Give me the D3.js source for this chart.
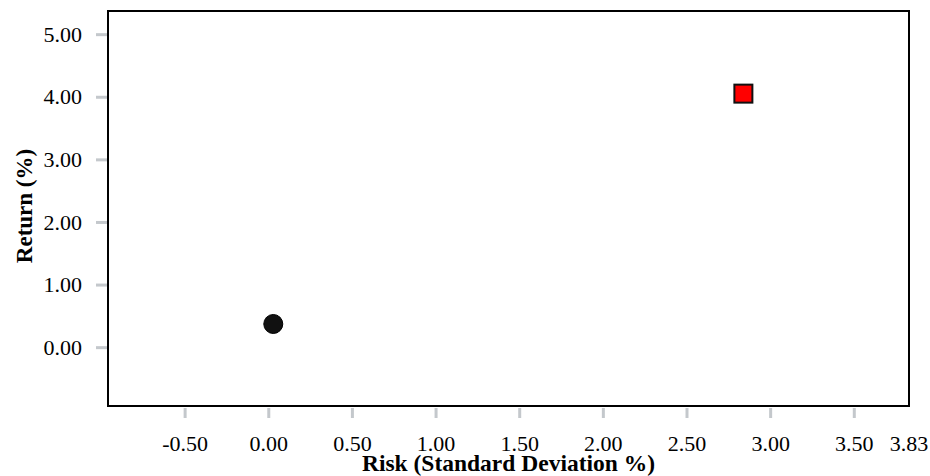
<!DOCTYPE html>
<html>
<head>
<meta charset="utf-8">
<script src="https://cdn.jsdelivr.net/npm/d3@7"></script>
<style>
  body { margin: 0; background: #fff; }
  text { font-family: "Liberation Serif", "Times New Roman", serif; }
</style>
</head>
<body>
<div id="chart"></div>
<script>
// Data
const names = ["Cash", "Portfolio"];
const risk = [0.03, 2.84];
const ret = [0.37, 4.05];
const shapes = ["circle", "square"];
const fills = ["#111111", "#ff0000"];

const xTicks = [-0.5, 0, 0.5, 1, 1.5, 2, 2.5, 3, 3.5];
const yTicks = [0, 1, 2, 3, 4, 5];
const xMax = 3.83;

const W = 930, H = 476;
const margin = { top: 11, right: 21, bottom: 70, left: 108 };
const width = W - margin.left - margin.right,
      height = H - margin.top - margin.bottom;

const fmt = d => d.toFixed(2); // plain hyphen for negatives

const svg = d3.select("#chart").append("svg")
    .attr("width", W).attr("height", H);

const g = svg.append("g")
    .attr("transform", `translate(${margin.left},${margin.top})`);

const x = d3.scaleLinear().domain([-0.958, xMax]).range([0, width]);
const y = d3.scaleLinear().domain([-0.94, 5.37]).range([height, 0]);

// X axis: gray ticks below the box, plus end label at the max
const xAxis = g.append("g")
    .attr("transform", `translate(0,${height})`)
    .call(d3.axisBottom(x).tickValues(xTicks).tickFormat(fmt)
      .tickSize(12).tickPadding(17));
xAxis.select(".domain").remove();
xAxis.selectAll("line").attr("stroke", "#c4c8cc").attr("stroke-width", 3)
    .attr("y1", 2);
xAxis.selectAll("text").attr("fill", "#000").style("font-size", "22px")
    .style("font-family", "Liberation Serif");
xAxis.append("text")
    .attr("x", x(xMax)).attr("y", 29).attr("dy", "0.71em")
    .attr("text-anchor", "middle").attr("fill", "#000")
    .style("font-size", "22px")
    .text(fmt(xMax));

// Y axis
const yAxis = g.append("g")
    .call(d3.axisLeft(y).tickValues(yTicks).tickFormat(fmt)
      .tickSize(12).tickPadding(14));
yAxis.select(".domain").remove();
yAxis.selectAll("line").attr("stroke", "#c4c8cc").attr("stroke-width", 3)
    .attr("x1", -1);
yAxis.selectAll("text").attr("fill", "#000").style("font-size", "22px")
    .style("font-family", "Liberation Serif");

// Frame
g.append("rect")
    .attr("width", width).attr("height", height)
    .attr("fill", "none").attr("stroke", "#000").attr("stroke-width", 2);

// Points
const pts = names.map((n, i) => ({ name: n, x: risk[i], y: ret[i], shape: shapes[i], fill: fills[i] }));

g.selectAll("circle.pt")
  .data(pts.filter(d => d.shape === "circle"))
  .join("circle")
    .attr("class", "pt")
    .attr("cx", d => x(d.x)).attr("cy", d => y(d.y))
    .attr("r", 9.5)
    .attr("fill", d => d.fill)
    .attr("stroke", "#000").attr("stroke-width", 1);

g.selectAll("rect.pt")
  .data(pts.filter(d => d.shape === "square"))
  .join("rect")
    .attr("class", "pt")
    .attr("x", d => x(d.x) - 9).attr("y", d => y(d.y) - 9)
    .attr("width", 18).attr("height", 18)
    .attr("fill", d => d.fill)
    .attr("stroke", "#111").attr("stroke-width", 2);

// Axis titles
svg.append("text")
    .attr("x", margin.left + width / 2).attr("y", 471)
    .attr("text-anchor", "middle")
    .style("font-size", "23.5px").style("font-weight", "bold")
    .text("Risk (Standard Deviation %)");

svg.append("text")
    .attr("transform", "translate(32,206) rotate(-90)")
    .attr("text-anchor", "middle")
    .style("font-size", "23px").style("font-weight", "bold")
    .text("Return (%)");
</script>
</body>
</html>
